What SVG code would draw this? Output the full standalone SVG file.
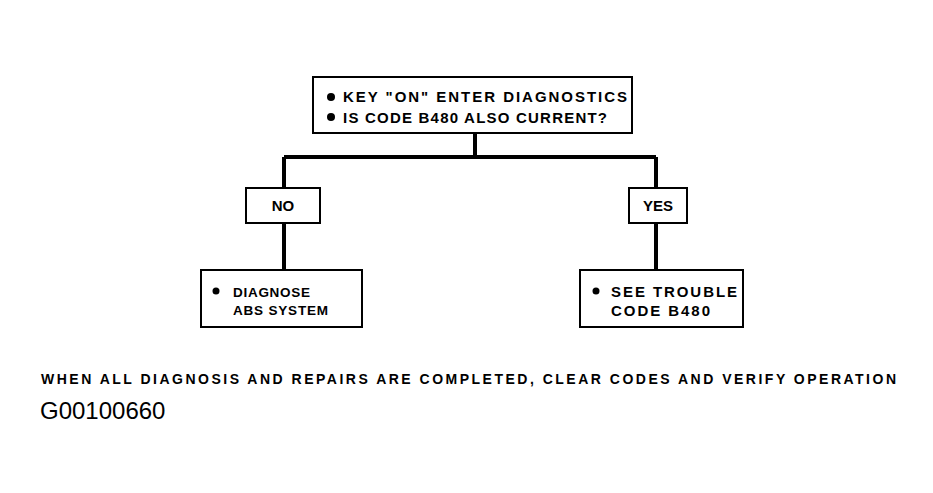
<svg xmlns="http://www.w3.org/2000/svg" width="933" height="493" viewBox="0 0 933 493">
<style>
.box{fill:#fff;stroke:#000;stroke-width:2}
.t{font-family:"Liberation Sans",Arial,sans-serif;font-size:15px;fill:#000;font-weight:bold}
.s{font-size:13.5px}
.f{font-family:"Liberation Sans",Arial,sans-serif;font-size:14px;fill:#000;font-weight:bold}
.c{fill:none;stroke:#000;stroke-width:4}
</style>
<rect width="933" height="493" fill="#fff"/>
<g id="connectors">
<path class="c" d="M475,133 V157 M284,157 H656 M284,157 V188 M284,223 V270 M656,157 V188 M656,223 V270"/>
</g>
<g id="top">
<rect class="box" x="313" y="77" width="319" height="56"/>
<circle cx="331" cy="97" r="4"/>
<text class="t" x="343" y="102" textLength="284" lengthAdjust="spacing">KEY "ON" ENTER DIAGNOSTICS</text>
<circle cx="331" cy="117" r="4"/>
<text class="t" x="343" y="123" textLength="264" lengthAdjust="spacing">IS CODE B480 ALSO CURRENT?</text>
</g>
<g id="no">
<rect class="box" x="246" y="188" width="74" height="35"/>
<text class="t" x="283" y="211" text-anchor="middle">NO</text>
</g>
<g id="yes">
<rect class="box" x="629" y="188" width="58" height="35"/>
<text class="t" x="658" y="211" text-anchor="middle">YES</text>
</g>
<g id="diagnose">
<rect class="box" x="201" y="270" width="161" height="57"/>
<circle cx="216" cy="291" r="3.5"/>
<text class="t s" x="233" y="297" textLength="77" lengthAdjust="spacing">DIAGNOSE</text>
<text class="t s" x="233" y="315" textLength="95" lengthAdjust="spacing">ABS SYSTEM</text>
</g>
<g id="see">
<rect class="box" x="580" y="270" width="163" height="57"/>
<circle cx="596" cy="291" r="3.5"/>
<text class="t" x="611" y="297" textLength="126" lengthAdjust="spacing">SEE TROUBLE</text>
<text class="t" x="611" y="316" textLength="99" lengthAdjust="spacing">CODE B480</text>
</g>
<text class="f" x="41" y="384" textLength="855" lengthAdjust="spacing">WHEN ALL DIAGNOSIS AND REPAIRS ARE COMPLETED, CLEAR CODES AND VERIFY OPERATION</text>
<text x="40" y="419" style="font-family:'Liberation Sans',Arial,sans-serif;font-size:24px" fill="#000">G00100660</text>
</svg>
